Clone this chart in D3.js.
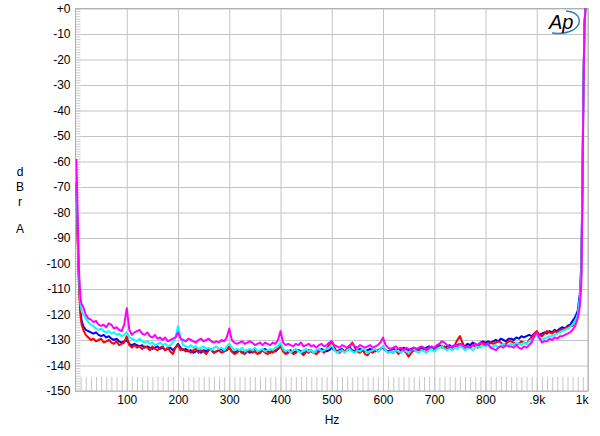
<!DOCTYPE html>
<html><head><meta charset="utf-8">
<script src="https://cdn.jsdelivr.net/npm/d3@7"></script>
<style>
body{margin:0;background:#fff;}
svg text{font-family:"Liberation Sans",Arial,sans-serif;font-size:12px;fill:#000;}
</style></head>
<body><svg id="c" width="600" height="436"></svg>
<script>
// ---- data ----
const headFreq = [1.5, 2.5, 3.5, 4.5, 5.5, 6.5, 8, 10, 12];
const midFreq = d3.range(15, 985, 5); // 15..980 Hz, 5 Hz steps
const tailFreq = [984, 987, 989, 991, 993, 995];
const freqs = headFreq.concat(midFreq, tailFreq);

const yTicks = [0,-10,-20,-30,-40,-50,-60,-70,-80,-90,-100,-110,-120,-130,-140,-150];
const xTicks = [100,200,300,400,500,600,700,800,900,1000];
const xTickLabels = ["100","200","300","400","500","600","700","800",".9k","1k"];

const blue = [-68,-76,-84,-91,-98,-105,-112,-119,-122.5,
-124.5,-126,-126.5,-127,-127.5,-127,-128,-128.5,-128,-129,-128.5,-129.5,-130,-129.5,-130.5,-131,-130.5,-130,-131.5,-132,
-131.5,-132,-132.5,-132,-133,-132.5,-133,-133.5,-133,-132.5,-133.5,-133,-134,-133.5,-133,-134,-133,-131.5,-133,-134,
-133.5,-134.5,-134,-135,-134.5,-134,-135,-134,-134.5,-133.5,-134,-135,-134.5,-134,-133.5,-134.5,-134,-133,-134.5,-135,
-134.5,-134,-135,-134.5,-134,-135,-134,-133.5,-134.5,-135,-134,-133.5,-134.5,-135,-134,-134.5,-133.5,-132.5,-134,-135,
-134.5,-134,-135,-134.5,-134,-134.5,-135.5,-134.5,-134,-134.5,-135,-134,-134.5,-133.5,-134,-134.5,-134,-133,-134,-134.5,
-134,-133.5,-134.5,-134,-133,-134,-134.5,-134,-133.5,-134,-134.5,-134,-133.5,-134,-134.5,-134,-133.5,-133,-134,-134.5,
-134,-133.5,-134,-133.5,-134,-133,-133.5,-134,-133.5,-133,-133.5,-134,-133,-133.5,-133,-132.5,-133,-133.5,-132.5,-132,
-132.5,-133,-132.5,-132,-133,-132.5,-132,-131.5,-132,-132.5,-131.5,-132,-131,-131.5,-132,-131,-130.5,-131,-130.5,-131,
-130.5,-130,-130.5,-129.5,-130,-130.5,-129.5,-129.5,-130,-129,-129.5,-128.5,-129,-128.5,-128,-128.5,-127.5,-127,-128,-127.5,
-127,-127.5,-126.5,-127,-126,-126.5,-125.5,-125,-125.5,-124.5,-124,-122.5,-121,-118.5,
-112,-100,-70,-32,-6,0];

const red = [-70,-78,-86,-93,-100,-107,-114,-121,-124,
-126,-128,-129,-130,-129.5,-130.5,-130,-129.5,-131,-130.5,-130,-131,-131.5,-130.5,-132,-131.5,-131,-128.5,-132,-133,
-132,-133,-132.5,-133.5,-132.5,-133,-134,-132.5,-133.5,-134,-133,-132.5,-134,-133,-134.5,-135.5,-133,-132,-134,-133.5,
-134.5,-134,-135,-134,-133.5,-135,-134,-134.5,-135.5,-134,-133.5,-135,-134.5,-134,-135,-134.5,-134,-132.5,-134.5,-135.5,
-135,-134,-135,-135.5,-134.5,-134,-135,-134.5,-135.5,-135,-134,-135,-135.5,-134.5,-135,-134,-133.5,-132,-134.5,-135.5,
-135,-134.5,-135.5,-135,-134,-135,-136,-134.5,-135,-134,-135,-135.5,-134.5,-134,-135,-133.5,-132,-130.5,-133,-134.5,
-135,-134,-134.5,-133.5,-132.5,-131,-133,-134.5,-135,-134,-135.5,-136,-134.5,-135,-134,-134.5,-133.5,-132.5,-134,-135,
-134.5,-135,-134,-135.5,-134.5,-134,-135,-136.5,-135,-134,-134.5,-133.5,-134,-133.5,-134,-133,-133.5,-134,-133,-132.5,
-133,-132.5,-133.5,-133,-132.5,-132,-130,-128.5,-131,-133,-132.5,-133,-132,-132.5,-133,-131.5,-131,-131.5,-132,-131,
-131.5,-131,-130.5,-131,-132,-131.5,-130.5,-130.5,-131,-132,-131.5,-130.5,-131,-131.5,-130,-129,-127.5,-126.5,-128,-128.5,
-127.5,-126.5,-127,-127.5,-126.5,-127,-126,-126,-125.5,-125,-124.5,-124.5,-122.5,-120.5,
-115,-104,-73,-34,-7,0];

const cyan = [-66,-72,-80,-88,-95,-103,-110,-116,-118.5,
-120,-121.5,-123,-124,-124.5,-125.5,-126,-125.5,-126.5,-127,-126.5,-127.5,-127,-128,-127.5,-128.5,-128,-127,-129,-129.5,
-130,-130.5,-129.5,-130.5,-131,-130.5,-131.5,-131,-132,-131.5,-131,-132,-131.5,-132.5,-132,-131,-129,-124.5,-129,-132,
-132.5,-133,-132,-133,-132.5,-133.5,-133,-132.5,-133.5,-133,-134,-133,-132.5,-133.5,-133,-134,-132.5,-131.5,-133,-134,
-133.5,-134,-133,-134.5,-134,-133.5,-134,-133,-134.5,-134,-133.5,-134.5,-134,-133.5,-134,-133,-132.5,-131,-133.5,-134.5,
-134,-135,-134,-133.5,-134.5,-135,-134,-133.5,-134.5,-134,-135,-134,-133.5,-134.5,-134,-133.5,-133,-132,-134,-135,
-134.5,-134,-135,-134,-133.5,-134.5,-135,-134,-134.5,-133.5,-134,-135,-134.5,-134,-133.5,-134.5,-133.5,-132.5,-134,-135,
-134.5,-135,-134,-134.5,-135,-134,-134.5,-135,-134,-133.5,-134.5,-135,-134,-134.5,-135,-134,-133.5,-134.5,-133.5,-133,
-132.5,-133.5,-134,-133.5,-134,-133,-133.5,-132.5,-133,-134,-133.5,-133,-134,-133,-132.5,-133,-132,-132.5,-132,-133,
-132.5,-132,-133,-132,-131.5,-132.5,-132,-131.5,-132,-131,-131.5,-132,-131,-131.5,-130.5,-130,-129,-128,-129.5,-130,
-129.5,-129,-128.5,-128.5,-128,-127.5,-127,-126.5,-126,-125.5,-125,-124,-122.5,-120,
-114,-103,-72,-33,-7,0];

const magenta = [-59,-66,-75,-84,-93,-101,-108,-114,-116,
-117,-120,-121.5,-122,-123,-122.5,-124,-124.5,-124,-125,-123.5,-124,-125.5,-125,-126,-126.5,-124,-117.5,-126,-128,
-127,-126.5,-126,-127.5,-128,-127,-128.5,-129,-128,-129.5,-129,-130,-129,-130.5,-130,-129.5,-129,-127,-129.5,-130,
-130.5,-129.5,-130,-130.5,-131,-130,-129.5,-130.5,-130,-129.5,-130.5,-131,-130.5,-131,-130,-130.5,-129,-125.5,-130,-131,
-131.5,-131,-130.5,-131.5,-131,-130.5,-131,-132,-131.5,-131,-132,-131,-131.5,-132,-131,-131.5,-130,-126.5,-131,-132,
-131.5,-132,-132.5,-131.5,-132,-131,-132.5,-132,-131.5,-132.5,-132,-133,-132,-131.5,-132.5,-132,-131,-130.5,-132,-132.5,
-133,-132,-132.5,-133,-132,-131.5,-132.5,-133,-132,-132.5,-133,-132.5,-132,-133,-132.5,-132,-131,-129,-132,-133,
-133.5,-133,-132.5,-133.5,-133,-134,-133,-133.5,-134,-133,-133.5,-133,-132.5,-133,-134,-133,-132.5,-133,-132,-131.5,
-130.5,-131,-132,-132.5,-133,-132,-132.5,-131.5,-132,-133,-132.5,-133,-132,-131.5,-132,-131,-131.5,-132,-131.5,-133,
-133.5,-134,-133,-132.5,-133,-132,-132.5,-132.5,-133,-132,-133,-133.5,-132.5,-133,-132,-131,-128.5,-127,-129,-131,
-130.5,-130.5,-129.5,-130,-129,-129.5,-128.5,-128.5,-128,-127.5,-127,-126,-124.5,-121.5,
-117,-108,-75,-35,-8,0];

const seriesList = [
  {name:"blue", color:"#0000ff", values:blue},
  {name:"red", color:"#ff0000", values:red},
  {name:"cyan", color:"#00ffff", values:cyan},
  {name:"magenta", color:"#ff00ff", values:magenta}
];

// ---- layout ----
const L = 75.5, R = 588, T = 8.5, B = 391;
const svg = d3.select("#c");
const x = d3.scaleLinear().domain([0,1000]).range([L,R]);
const y = d3.scaleLinear().domain([-150,0]).range([B,T]);

// grid
const gx = svg.append("g").attr("transform",`translate(0,${B})`)
  .call(d3.axisBottom(x).tickValues(xTicks).tickSize(-(B-T)).tickFormat(""));
gx.selectAll("line").attr("stroke","#c4c4c4");
gx.select(".domain").remove();
const gy = svg.append("g").attr("transform",`translate(${L},0)`)
  .call(d3.axisLeft(y).tickValues(yTicks).tickSize(-(R-L)).tickFormat(""));
gy.selectAll("line").attr("stroke","#c4c4c4");
gy.select(".domain").remove();

// minor ticks left (every 1 dB)
const mY = svg.append("g").attr("transform",`translate(${L},0)`)
  .call(d3.axisRight(y).tickValues(d3.range(-150,1,1)).tickSize(5).tickFormat(""));
mY.selectAll("line").attr("stroke","#cccccc");
mY.select(".domain").remove();
// minor ticks bottom (every 10 Hz)
const mX = svg.append("g").attr("transform",`translate(0,${B})`)
  .call(d3.axisTop(x).tickValues(d3.range(10,1000,10)).tickSize(14).tickFormat(""));
mX.selectAll("line").attr("stroke","#c8c8c8");
mX.select(".domain").remove();

// border
svg.append("rect").attr("x",L).attr("y",T).attr("width",R-L).attr("height",B-T)
  .attr("fill","none").attr("stroke","#b0b0b0");

// labels
const yl = svg.append("g").attr("transform",`translate(${L},0)`)
  .call(d3.axisLeft(y).tickValues(yTicks).tickSize(0).tickPadding(5)
    .tickFormat(d => d===0 ? "+0" : String(d)));
yl.select(".domain").remove();
yl.selectAll("text").style("font-size","12px").style("font-family","Liberation Sans, Arial, sans-serif").attr("fill","#000");

const xl = svg.append("g").attr("transform",`translate(0,${B})`)
  .call(d3.axisBottom(x).tickValues(xTicks).tickSize(0).tickPadding(4)
    .tickFormat((d,i) => xTickLabels[i]));
xl.select(".domain").remove();
xl.selectAll("text").style("font-size","12px").style("font-family","Liberation Sans, Arial, sans-serif").attr("fill","#000");
xl.selectAll("text").filter(d => d===1000).attr("text-anchor","end");

svg.append("text").attr("x",332).attr("y",424).attr("text-anchor","middle").text("Hz");
[["d",176],["B",191],["r",206],["A",233]].forEach(([t,yy]) =>
  svg.append("text").attr("x",20).attr("y",yy).attr("text-anchor","middle").text(t));

// curves
svg.append("clipPath").attr("id","clip").append("rect")
  .attr("x",L).attr("y",T-1).attr("width",R-L).attr("height",B-T+1);
const line = d3.line().x((d,i)=>x(freqs[i])).y(d=>y(d));
const cg = svg.append("g").attr("clip-path","url(#clip)");
seriesList.forEach(s => {
  cg.append("path").datum(s.values).attr("d",line)
    .attr("fill","none").attr("stroke",s.color).attr("stroke-width",2)
    .attr("stroke-linejoin","round");
});

// logo
const lg = svg.append("g");
lg.append("path").attr("d","M566,11 C580,12 584,23 573,30 C567,33 559,34 552,33")
  .attr("fill","none").attr("stroke","#2a7fc4").attr("stroke-width",1.4);
lg.append("text").attr("x",549).attr("y",29).text("Ap")
  .style("font-size","20px").style("font-style","italic")
  .style("font-family","Liberation Sans, Arial, sans-serif").attr("fill","#2a7fc4");
</script></body></html>
